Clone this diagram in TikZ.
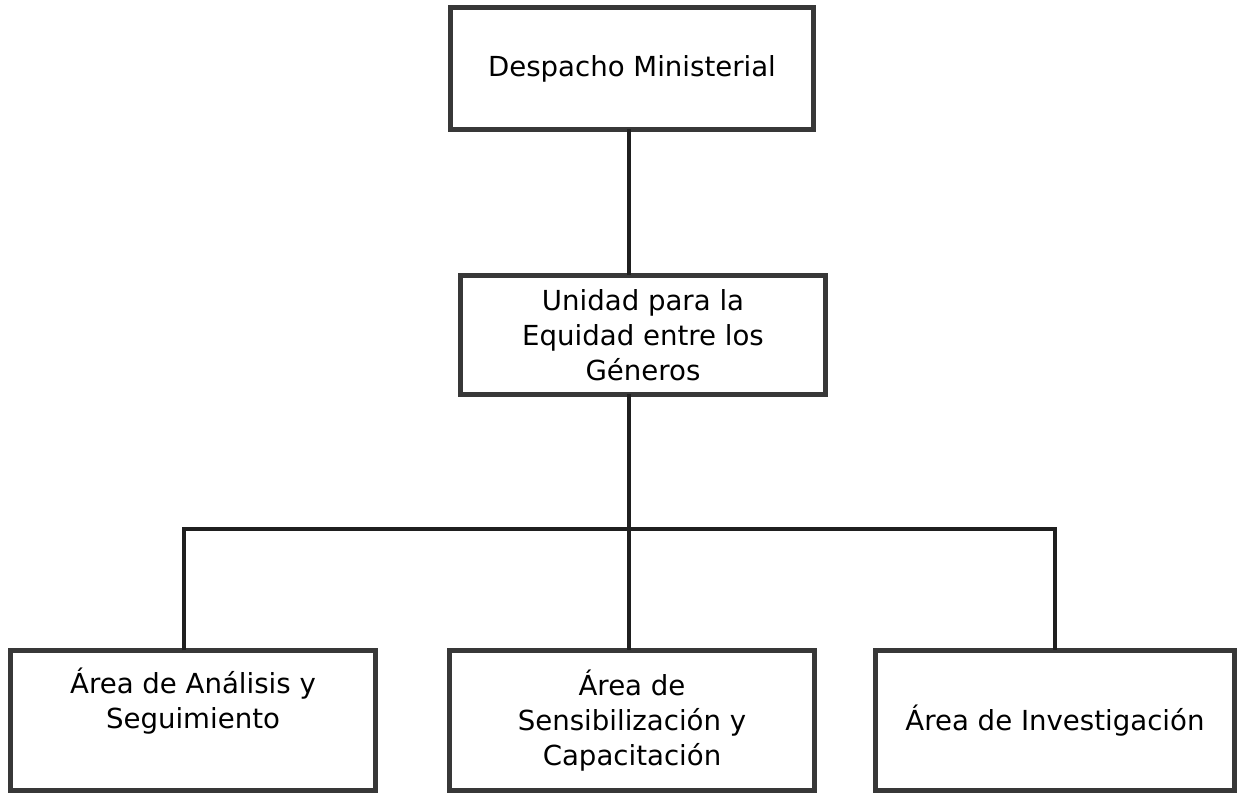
\documentclass[tikz,border=0pt]{standalone}
\usepackage{fontspec}
\setmainfont{DejaVu Sans}
\begin{document}
\begin{tikzpicture}[x=0.5pt,y=-0.5pt,
  orgbox/.style={draw=black!78, line width=2.5pt, fill=white, inner sep=0pt, outer sep=0pt,
    align=center, font=\fontsize{13.8pt}{17.5pt}\selectfont, text=black},
  link/.style={draw=black!88, line width=1.6pt}]
\useasboundingbox (0,0) rectangle (1239,795);
\node[orgbox, minimum width=181.5pt, minimum height=61pt] (top) at (632,68.5) {\raisebox{-4pt}{Despacho Ministerial}};
\node[orgbox, minimum width=182.5pt, minimum height=59.5pt] (uni) at (643,335) {Unidad para la\\Equidad entre los\\Géneros};
\node[orgbox, minimum width=182.5pt, minimum height=70pt] (left) at (193,720.5) {Área de Análisis y\\Seguimiento\\\strut};
\node[orgbox, minimum width=182.5pt, minimum height=70pt] (mid) at (632,720.5) {Área de\\Sensibilización y\\Capacitación};
\node[orgbox, minimum width=179.5pt, minimum height=70pt] (right) at (1055,720.5) {Área de Investigación};
\coordinate (bus) at (629,529);
\draw[link] (top.south -| bus) -- (uni.north -| bus);
\draw[link] (uni.south -| bus) -- (mid.north -| bus);
\draw[link] (left.north -| 184,0) |- (bus) -| (right.north);
\end{tikzpicture}
\end{document}
